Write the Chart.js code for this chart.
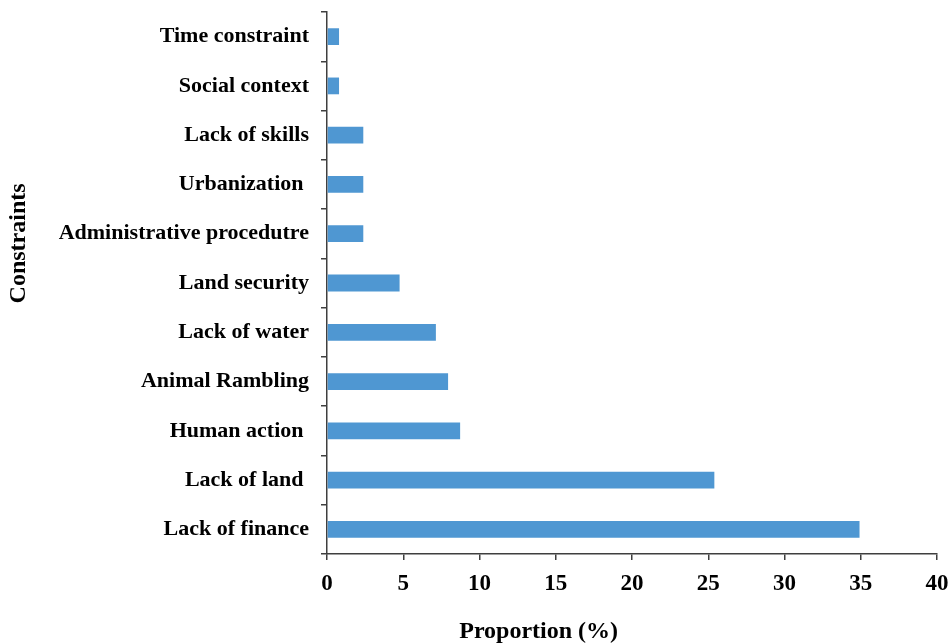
<!DOCTYPE html>
<html>
<head>
<meta charset="utf-8">
<script src="https://cdn.jsdelivr.net/npm/chart.js@4"></script>
<style>
  html, body { margin: 0; padding: 0; background: #ffffff; }
  #wrap { width: 951px; height: 643px; position: relative; }
</style>
</head>
<body>
<div id="wrap"><canvas id="chart"></canvas></div>
<script>
// Constraints reported, listed top to bottom
const constraints = [
  'Time constraint',
  'Social context',
  'Lack of skills',
  'Urbanization ',
  'Administrative procedutre',
  'Land security',
  'Lack of water',
  'Animal Rambling',
  'Human action ',
  'Lack of land ',
  'Lack of finance'
];
// Share of respondents citing each constraint (%)
const proportions = [0.79, 0.79, 2.38, 2.38, 2.38, 4.76, 7.14, 7.94, 8.73, 25.40, 34.92];
const xTicks = [0, 5, 10, 15, 20, 25, 30, 35, 40];

const xTitle = 'Proportion (%)';
const yTitle = 'Constraints';

const serif = '"Liberation Serif", "Times New Roman", serif';
const axisColor = '#3f3f3f';

// Axis titles placed by hand, slightly off-centre as in the original layout
const axisTitles = {
  id: 'axisTitles',
  afterDraw(chart) {
    const { ctx, chartArea } = chart;
    ctx.save();
    ctx.fillStyle = '#000';
    ctx.font = 'bold 24px ' + serif;
    ctx.textAlign = 'center';
    ctx.textBaseline = 'middle';
    ctx.fillText(xTitle, chartArea.left + (chartArea.right - chartArea.left) * 0.347, 632);
    ctx.translate(19, chartArea.top + (chartArea.bottom - chartArea.top) * 0.427);
    ctx.rotate(-Math.PI / 2);
    ctx.fillText(yTitle, 0, 0);
    ctx.restore();
  }
};

new Chart(document.getElementById('chart'), {
  type: 'bar',
  data: {
    labels: constraints,
    datasets: [{
      data: proportions,
      backgroundColor: '#4f97d2',
      borderWidth: 0,
      barPercentage: 0.34,
      categoryPercentage: 1.0
    }]
  },
  options: {
    indexAxis: 'y',
    responsive: true,
    maintainAspectRatio: false,
    animation: false,
    layout: { padding: { top: 12, right: 14, left: 0, bottom: 0 } },
    plugins: {
      legend: { display: false },
      tooltip: { enabled: false }
    },
    scales: {
      x: {
        min: 0,
        max: 40,
        afterBuildTicks(scale) { scale.ticks = xTicks.map(v => ({ value: v })); },
        afterFit(scale) {
          scale.height = 89;
          scale.paddingLeft = 0;
          scale.paddingRight = 0;
        },
        border: { display: true, color: axisColor, width: 1.5 },
        grid: { drawOnChartArea: false, drawTicks: true, tickLength: 6, color: axisColor, lineWidth: 1.5 },
        ticks: { color: '#000', padding: 10, font: { family: serif, size: 23, weight: 'bold' } }
      },
      y: {
        offset: true,
        afterFit(scale) {
          scale.width = 327;
          scale.paddingTop = 0;
          scale.paddingBottom = 0;
        },
        border: { display: true, color: axisColor, width: 1.5 },
        grid: { offset: true, drawOnChartArea: false, drawTicks: true, tickLength: 6, color: axisColor, lineWidth: 1.5 },
        ticks: { color: '#000', padding: 12, font: { family: serif, size: 22, weight: 'bold' } }
      }
    }
  },
  plugins: [axisTitles]
});
</script>
</body>
</html>
